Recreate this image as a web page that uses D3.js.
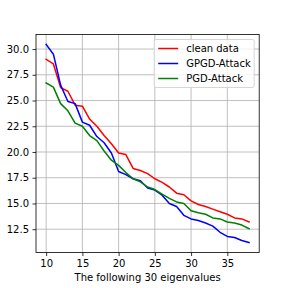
<!DOCTYPE html>
<html>
<head>
<meta charset="utf-8">
<script src="https://cdn.jsdelivr.net/npm/d3@7"></script>
<style>
  body { margin: 0; background: #fff; }
  text { font-family: "DejaVu Sans", sans-serif; }
</style>
</head>
<body>
<div id="linechart"></div>
<script>
// eigenvalue index 10..38
var idx = [10,11,12,13,14,15,16,17,18,19,20,21,22,23,24,25,26,27,28,29,30,31,32,33,34,35,36,37,38];
var cleanData = [29.0,28.55,26.25,25.9,24.55,24.45,23.2,22.5,21.6,20.8,19.9,19.75,18.4,18.2,17.9,17.4,17.05,16.6,16.0,15.85,15.25,14.9,14.7,14.45,14.2,13.95,13.6,13.5,13.2];
var gpgdData = [30.45,29.5,26.5,24.9,24.7,22.9,22.6,21.5,20.9,19.9,18.1,17.8,17.4,17.2,16.5,16.3,15.8,15.0,14.7,13.85,13.5,13.35,13.1,12.8,12.2,11.8,11.7,11.4,11.2];
var pgdData = [26.7,26.3,24.7,24.0,22.8,22.5,21.6,21.1,20.1,19.2,18.7,18.0,17.4,17.1,16.6,16.35,15.9,15.5,15.15,15.0,14.3,14.1,13.95,13.6,13.5,13.2,13.1,12.9,12.55];
var seriesNames = ["clean data", "GPGD-Attack", "PGD-Attack"];
var seriesColors = ["#ff0000", "#0000ff", "#008000"];
var xTicks = [10,15,20,25,30,35];
var yTicks = [12.5,15.0,17.5,20.0,22.5,25.0,27.5,30.0];
var xLabel = "The following 30 eigenvalues";

var series = [cleanData, gpgdData, pgdData].map(function(vals, i) {
  return { name: seriesNames[i], color: seriesColors[i],
           values: vals.map(function(v, j) { return { x: idx[j], y: v }; }) };
});

var svg = d3.select("#linechart").append("svg").attr("width", 288).attr("height", 288),
    margin = {top: 34.5, right: 28.8, bottom: 35.5, left: 36},
    width = +svg.attr("width") - margin.left - margin.right,
    height = +svg.attr("height") - margin.top - margin.bottom;

var g = svg.append("g")
  .attr("transform", "translate(" + margin.left + "," + margin.top + ")");

// matplotlib style 5% margins
var xmin = d3.min(idx), xmax = d3.max(idx), xpad = (xmax - xmin) * 0.05;
var allY = cleanData.concat(gpgdData, pgdData);
var ymin = d3.min(allY), ymax = d3.max(allY), ypad = (ymax - ymin) * 0.05;

var x = d3.scaleLinear().domain([xmin - xpad, xmax + xpad]).range([0, width]);
var y = d3.scaleLinear().domain([ymin - ypad, ymax + ypad]).range([height, 0]);

// grid
g.append("g").selectAll("line").data(xTicks).enter().append("line")
  .attr("x1", function(d) { return x(d); }).attr("x2", function(d) { return x(d); })
  .attr("y1", 0).attr("y2", height)
  .attr("stroke", "#b0b0b0").attr("stroke-width", 0.8);
g.append("g").selectAll("line").data(yTicks).enter().append("line")
  .attr("y1", function(d) { return y(d); }).attr("y2", function(d) { return y(d); })
  .attr("x1", 0).attr("x2", width)
  .attr("stroke", "#b0b0b0").attr("stroke-width", 0.8);

var line = d3.line()
  .x(function(d) { return x(d.x); })
  .y(function(d) { return y(d.y); });

g.selectAll(".series").data(series).enter().append("path")
  .attr("class", "series")
  .attr("d", function(d) { return line(d.values); })
  .attr("fill", "none")
  .attr("stroke", function(d) { return d.color; })
  .attr("stroke-width", 1.5)
  .attr("stroke-linejoin", "round")
  .attr("stroke-linecap", "square");

// axes
var xAxis = g.append("g")
  .attr("transform", "translate(0," + height + ")")
  .call(d3.axisBottom(x).tickValues(xTicks).tickSizeInner(3.5).tickSizeOuter(0).tickPadding(3.5));
var yAxis = g.append("g")
  .call(d3.axisLeft(y).tickValues(yTicks).tickFormat(d3.format(".1f")).tickSizeInner(3.5).tickSizeOuter(0).tickPadding(3.5));

[xAxis, yAxis].forEach(function(a) {
  a.select(".domain").remove();
  a.selectAll(".tick line").attr("stroke", "#000").attr("stroke-width", 0.8);
  a.selectAll(".tick text").attr("fill", "#000").style("font-size", "10px")
    .style("font-family", "DejaVu Sans, sans-serif");
});

// frame
g.append("rect").attr("x", 0).attr("y", 0).attr("width", width).attr("height", height)
  .attr("fill", "none").attr("stroke", "#000").attr("stroke-width", 0.8);

g.append("text")
  .attr("x", width / 2).attr("y", height + 28.5)
  .attr("text-anchor", "middle")
  .style("font-size", "10px")
  .text(xLabel);

// legend
var legW = 100, legH = 48;
var leg = g.append("g")
  .attr("transform", "translate(" + (width - 5 - legW) + "," + 5 + ")");
leg.append("rect")
  .attr("width", legW).attr("height", legH).attr("rx", 2)
  .attr("fill", "#fff").attr("fill-opacity", 0.8)
  .attr("stroke", "#cccccc").attr("stroke-width", 0.8);

var items = leg.selectAll(".item").data(series).enter().append("g")
  .attr("class", "item")
  .attr("transform", function(d, i) { return "translate(4," + (9 + i * 15) + ")"; });
items.append("line")
  .attr("x1", 0).attr("x2", 20).attr("y1", 0).attr("y2", 0)
  .attr("stroke", function(d) { return d.color; }).attr("stroke-width", 1.5);
items.append("text")
  .attr("x", 28).attr("y", 3.6)
  .style("font-size", "10px")
  .attr("fill", "#000")
  .text(function(d) { return d.name; });
</script>
</body>
</html>
